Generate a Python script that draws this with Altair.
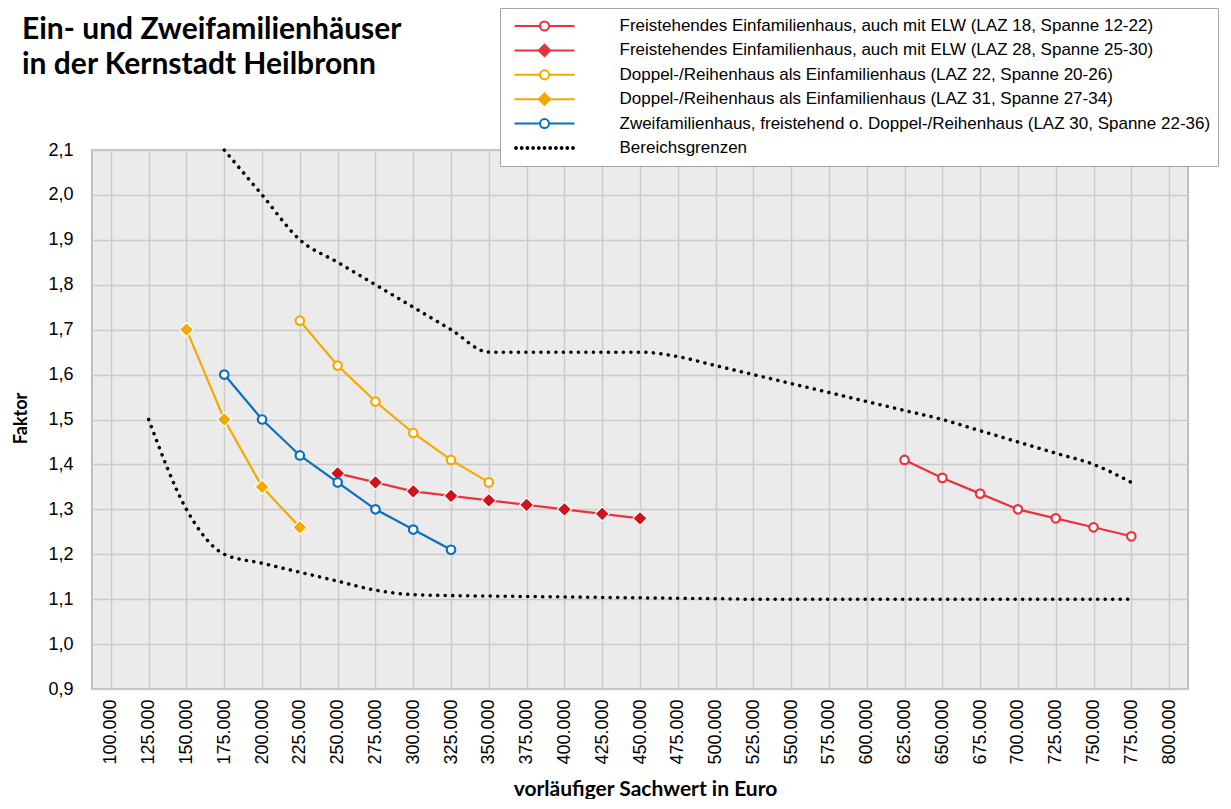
import altair as alt
import pandas as pd

# ---------------- data ----------------
series_names = [
    "Freistehendes Einfamilienhaus, auch mit ELW (LAZ 18, Spanne 12-22)",
    "Freistehendes Einfamilienhaus, auch mit ELW (LAZ 28, Spanne 25-30)",
    "Doppel-/Reihenhaus als Einfamilienhaus (LAZ 22, Spanne 20-26)",
    "Doppel-/Reihenhaus als Einfamilienhaus (LAZ 31, Spanne 27-34)",
    "Zweifamilienhaus, freistehend o. Doppel-/Reihenhaus (LAZ 30, Spanne 22-36)",
    "Bereichsgrenzen",
]

laz18_x = [625000, 650000, 675000, 700000, 725000, 750000, 775000]
laz18_y = [1.41, 1.37, 1.335, 1.30, 1.28, 1.26, 1.24]

laz28_x = [250000, 275000, 300000, 325000, 350000, 375000, 400000, 425000, 450000]
laz28_y = [1.38, 1.36, 1.34, 1.33, 1.32, 1.31, 1.30, 1.29, 1.28]

laz22_x = [225000, 250000, 275000, 300000, 325000, 350000]
laz22_y = [1.72, 1.62, 1.54, 1.47, 1.41, 1.36]

laz31_x = [150000, 175000, 200000, 225000]
laz31_y = [1.70, 1.50, 1.35, 1.26]

laz30_x = [175000, 200000, 225000, 250000, 275000, 300000, 325000]
laz30_y = [1.60, 1.50, 1.42, 1.36, 1.30, 1.255, 1.21]

upper_x = [175000, 200000, 225000, 250000, 275000, 300000, 325000, 350000,
           375000, 400000, 425000, 450000, 475000, 500000, 525000, 550000,
           575000, 600000, 625000, 650000, 675000, 700000, 725000, 750000, 775000]
upper_y = [2.10, 2.00, 1.90, 1.85, 1.80, 1.75, 1.70, 1.65,
           1.65, 1.65, 1.65, 1.65, 1.64, 1.62, 1.60, 1.58,
           1.56, 1.54, 1.52, 1.50, 1.475, 1.45, 1.425, 1.40, 1.36]

lower_x = [125000, 150000, 175000, 200000, 225000, 250000, 275000, 300000,
           325000, 350000, 375000, 400000, 425000, 450000, 475000, 500000,
           525000, 550000, 575000, 600000, 625000, 650000, 675000, 700000,
           725000, 750000, 775000]
lower_y = [1.50, 1.30, 1.20, 1.18, 1.16, 1.14, 1.12, 1.11,
           1.108, 1.107, 1.106, 1.105, 1.104, 1.103, 1.102, 1.101,
           1.10, 1.10, 1.10, 1.10, 1.10, 1.10, 1.10, 1.10,
           1.10, 1.10, 1.10]

x_ticks = [100000, 125000, 150000, 175000, 200000, 225000, 250000, 275000,
           300000, 325000, 350000, 375000, 400000, 425000, 450000, 475000,
           500000, 525000, 550000, 575000, 600000, 625000, 650000, 675000,
           700000, 725000, 750000, 775000, 800000]
y_ticks = [0.9, 1.0, 1.1, 1.2, 1.3, 1.4, 1.5, 1.6, 1.7, 1.8, 1.9, 2.0, 2.1]

# ---------------- styles ----------------
RED = "#E8333B"
RED_DARK = "#CF121B"
ORANGE = "#F5A800"
BLUE = "#0A70BE"
BLACK = "#000000"

line_colors = [RED, RED, ORANGE, ORANGE, BLUE, BLACK]
legend_fills = ["#FFFFFF", RED, "#FFFFFF", ORANGE, "#FFFFFF", BLACK]

sym_circle = ("M-1,0L-0.15,0M0.15,0L1,0"
              "M0.15,0A0.15,0.15,0,1,1,-0.15,0A0.15,0.15,0,1,1,0.15,0Z")
sym_diamond = "M-1,0L1,0M0,-0.19L0.19,0L0,0.19L-0.19,0Z"
dot_r = 0.03
dot_pos = [-0.95, -0.76, -0.57, -0.38, -0.19, 0.0, 0.19, 0.38, 0.57, 0.76, 0.95]
sym_dots = "".join(
    f"M{p + dot_r:.3f},0A{dot_r},{dot_r},0,1,1,{p - dot_r:.3f},0"
    f"A{dot_r},{dot_r},0,1,1,{p + dot_r:.3f},0Z" for p in dot_pos
)
legend_paths = [sym_circle, sym_diamond, sym_circle, sym_diamond, sym_circle, sym_dots]

# series key, name, color, marker kind, marker fill
series_style = [
    ("laz18", series_names[0], RED, "circle", "#FFFFFF"),
    ("laz28", series_names[1], RED, "diamond", RED_DARK),
    ("laz22", series_names[2], ORANGE, "circle", "#FFFFFF"),
    ("laz31", series_names[3], ORANGE, "diamond", ORANGE),
    ("laz30", series_names[4], BLUE, "circle", "#FFFFFF"),
]

rows = []
def add(name, part, xs, ys):
    for xv, yv in zip(xs, ys):
        rows.append({"series": name, "part": part, "x": xv, "y": yv})

add(series_names[0], "laz18", laz18_x, laz18_y)
add(series_names[1], "laz28", laz28_x, laz28_y)
add(series_names[2], "laz22", laz22_x, laz22_y)
add(series_names[3], "laz31", laz31_x, laz31_y)
add(series_names[4], "laz30", laz30_x, laz30_y)
add(series_names[5], "upper", upper_x, upper_y)
add(series_names[5], "lower", lower_x, lower_y)
df = pd.DataFrame(rows)

LABEL_FONT = "Liberation Sans"
TITLE_FONT = "Lato"

x_axis = alt.Axis(
    values=x_ticks,
    labelExpr="replace(format(datum.value, ','), ',', '.')",
    labelAngle=270, labelFont=LABEL_FONT, labelFontSize=18, labelColor="#000000",
    labelPadding=10, ticks=False, domain=False,
    grid=True, gridColor="#CBCBCB", gridWidth=1.5,
    title="vorläufiger Sachwert in Euro", titleFont=TITLE_FONT, titleFontSize=21,
    titleFontWeight="bold", titleColor="#000000", titleX=553, titleY=106,
    titleBaseline="alphabetic",
)
y_axis = alt.Axis(
    values=y_ticks,
    labelExpr="replace(format(datum.value, '.1f'), '.', ',')",
    labelFont=LABEL_FONT, labelFontSize=18, labelColor="#000000",
    labelPadding=19, ticks=False, domain=False,
    grid=True, gridColor="#CBCBCB", gridWidth=1.5,
    title="Faktor", titleFont=TITLE_FONT, titleFontSize=18, titleFontWeight="bold",
    titleColor="#000000", titleX=-62, titleY=268,
)

X = alt.X("x:Q", scale=alt.Scale(domain=[87500, 812500], nice=False, zero=False), axis=x_axis)
Y = alt.Y("y:Q", scale=alt.Scale(domain=[0.9, 2.1], nice=False, zero=False), axis=y_axis)

stroke_scale = alt.Scale(domain=series_names, range=line_colors)
fill_scale = alt.Scale(domain=series_names, range=legend_fills)
shape_scale = alt.Scale(domain=series_names, range=legend_paths)

legend = alt.Legend(
    title=None, orient="none", legendX=408, legendY=-142, direction="vertical",
    fillColor="#FFFFFF", strokeColor="#A6A6A6", padding=7,
    clipHeight=22, rowPadding=2.4, symbolOffset=6.5, labelOffset=44,
    labelFont=LABEL_FONT, labelFontSize=17, labelColor="#000000", labelLimit=900,
    symbolSize=3600, symbolStrokeWidth=2, symbolOpacity=1,
)

base = alt.Chart(df)

layers = []
# boundary lines (dotted, smoothed)
layers.append(
    base.transform_filter(alt.datum.series == series_names[5]).mark_line(
        color=BLACK, strokeWidth=3.5, strokeDash=[0.1, 7.4], strokeCap="round",
        interpolate="monotone"
    ).encode(x=X, y=Y, detail="part:N")
)
# series lines and markers
for key, name, col, kind, mfill in series_style:
    sub = base.transform_filter(alt.datum.part == key)
    layers.append(sub.mark_line(color=col, strokeWidth=2.2).encode(x=X, y=Y))
for key, name, col, kind, mfill in series_style:
    sub = base.transform_filter(alt.datum.part == key)
    if kind == "circle":
        layers.append(sub.mark_point(
            shape="circle", filled=True, fill=mfill, stroke=col, strokeWidth=2.2,
            size=72, opacity=1).encode(x=X, y=Y))
    else:
        layers.append(sub.mark_point(
            shape="diamond", filled=True, fill=mfill, stroke="#FFFFFF", strokeWidth=1.2,
            size=200, opacity=1).encode(x=X, y=Y))

# legend-only layer (no rows drawn; legend from explicit scale domains)
layers.append(
    base.transform_filter("false").mark_point(
        filled=True, opacity=1, size=3600, strokeWidth=2
    ).encode(
        x=X, y=Y,
        stroke=alt.Stroke("series:N", scale=stroke_scale, legend=legend),
        fill=alt.Fill("series:N", scale=fill_scale, legend=legend),
        shape=alt.Shape("series:N", scale=shape_scale, legend=legend),
    )
)

chart = alt.layer(*layers).properties(
    width=1096, height=539,
    autosize=alt.AutoSizeParams(type="none"),
    padding={"left": 84, "top": 142, "right": 35, "bottom": 110},
    title=alt.TitleParams(
        text=["Ein- und Zweifamilienhäuser", "in der Kernstadt Heilbronn"],
        anchor="start", frame="group", orient="top", offset=0, dx=-70, dy=72,
        baseline="top", font=TITLE_FONT, fontSize=30, fontWeight="bold",
        color="#000000", lineHeight=35,
    ),
).configure_view(fill="#EBEBEB", stroke="#BFBFBF", strokeWidth=2)

chart.save("out.html", embed_options={"renderer": "svg", "actions": False})
